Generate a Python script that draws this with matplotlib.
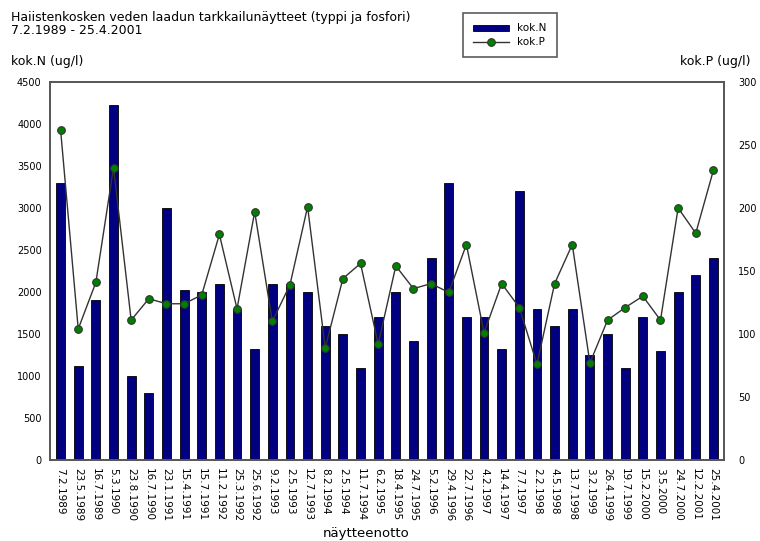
import matplotlib
matplotlib.use("Agg")
import matplotlib.pyplot as plt
import numpy as np

plt.rcParams['font.family'] = ['DejaVu Sans']

dates = ["7.2.1989", "23.5.1989", "16.7.1989", "5.3.1990", "23.8.1990", "16.7.1990",
         "23.1.1991", "15.4.1991", "15.7.1991", "11.2.1992", "25.3.1992", "25.6.1992",
         "9.2.1993", "2.5.1993", "12.7.1993", "8.2.1994", "2.5.1994", "11.7.1994",
         "6.2.1995", "18.4.1995", "24.7.1995", "5.2.1996", "29.4.1996", "22.7.1996",
         "4.2.1997", "14.4.1997", "7.7.1997", "2.2.1998", "4.5.1998", "13.7.1998",
         "3.2.1999", "26.4.1999", "19.7.1999", "15.2.2000", "3.5.2000", "24.7.2000",
         "12.2.2001", "25.4.2001"]
kok_N = [3300, 1120, 1900, 4230, 1000, 800, 3000, 2020, 2000, 2100, 1800, 1320,
         2100, 2100, 2000, 1600, 1500, 1100, 1700, 2000, 1420, 2400, 3300, 1700,
         1700, 1320, 3200, 1800, 1600, 1800, 1250, 1500, 1100, 1700, 1300, 2000,
         2200, 2400]
kok_P = [262, 104, 141, 232, 111, 128, 124, 124, 131, 179, 120, 197,
         110, 139, 201, 89, 144, 156, 92, 154, 136, 140, 133, 171,
         101, 140, 121, 76, 140, 171, 77, 111, 121, 130, 111, 200,
         180, 230]

fig = plt.figure(figsize=(7.6, 5.41), dpi=100)
ax = fig.add_axes([50/760, 1-460/541, (724-50)/760, (460-82)/541])
x = np.arange(len(dates))
ax.bar(x, kok_N, width=0.5, color='#000080', edgecolor='black', linewidth=0.6, label='kok.N', zorder=2)
ax.set_xlim(-0.6, len(dates) - 0.4)
ax.set_ylim(0, 4500)
ax.set_yticks(range(0, 4501, 500))
ax.set_xticks(x)
ax.set_xticklabels(dates, rotation=270, fontsize=7.5)
ax.tick_params(axis='both', length=0, labelsize=7, pad=6)
ax.tick_params(axis='x', labelsize=7.5, pad=6)
for s in ax.spines.values():
    s.set_color('#555555')
    s.set_linewidth(1.2)

ax2 = ax.twinx()
ax2.plot(x, kok_P, color='#333333', linewidth=1.0, marker='o', markersize=5.5,
         markerfacecolor='#008000', markeredgecolor='#333333', markeredgewidth=0.8,
         label='kok.P', zorder=3)
ax2.set_ylim(0, 300)
ax2.set_yticks(range(0, 301, 50))
ax2.tick_params(axis='y', length=0, labelsize=7, pad=10)
for s in ax2.spines.values():
    s.set_color('#555555')
    s.set_linewidth(1.2)

fig.text(11/760, 1-18/541, "Haiistenkosken veden laadun tarkkailunäytteet (typpi ja fosfori)", fontsize=9, va='center')
fig.text(11/760, 1-31/541, "7.2.1989 - 25.4.2001", fontsize=9, va='center')
fig.text(11/760, 1-61/541, "kok.N (ug/l)", fontsize=9, va='center')
fig.text(750/760, 1-61/541, "kok.P (ug/l)", fontsize=9, va='center', ha='right')
fig.text(366/760, 1-534/541, "näytteenotto", fontsize=9.5, va='center', ha='center')

h1, l1 = ax.get_legend_handles_labels()
h2, l2 = ax2.get_legend_handles_labels()
leg = fig.legend(h1 + h2, l1 + l2, loc='upper left', bbox_to_anchor=(463/760, 1-13/541),
                 fontsize=7.5, frameon=True, fancybox=False, edgecolor='#333333',
                 handlelength=3.4, borderpad=1.0, labelspacing=0.35, handletextpad=0.8,
                 borderaxespad=0, handleheight=0.5)
leg.get_frame().set_linewidth(1.2)

fig.savefig("out.png", dpi=100)
